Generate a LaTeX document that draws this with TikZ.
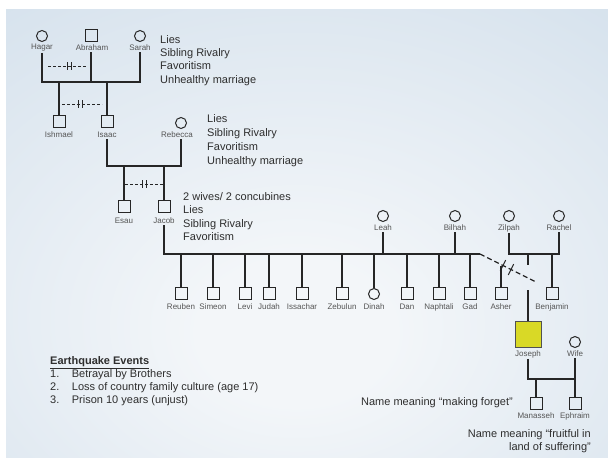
\documentclass[tikz,border=0pt]{standalone}
\usepackage{fontspec}
\setmainfont{Liberation Sans}
\definecolor{bgin}{HTML}{F3F6F9}
\definecolor{bgout}{HTML}{BCD0E2}
\definecolor{linec}{HTML}{262626}
\definecolor{textc}{HTML}{2E2E2E}
\definecolor{namec}{HTML}{555555}
\definecolor{josephc}{HTML}{D9D926}
\pgfdeclareradialshading{slidebg}{\pgfpoint{-1bp}{-12bp}}{color(0bp)=(bgin); color(8bp)=(bgin); color(72bp)=(bgout); color(100bp)=(bgout)}
\tikzset{
  male/.style={draw=linec, line width=1pt, minimum size=12pt, inner sep=0pt},
  female/.style={circle, draw=linec, line width=1pt, minimum size=11pt, inner sep=0pt},
  pname/.style={font=\fontsize{8}{9}\selectfont, text=namec, inner sep=1pt},
  note/.style={font=\fontsize{11}{13.3}\selectfont, text=textc, align=left, inner sep=0pt, anchor=north west},
  kin/.style={draw=linec, line width=1.2pt},
  cutoff/.style={draw=linec, line width=1pt, dash pattern=on 3pt off 2pt},
}
\begin{document}
\begin{tikzpicture}[x=1pt,y=-1pt]
\useasboundingbox (0,0) rectangle (608,458);
\fill[white] (0,0) rectangle (608,458);
\shade[shading=slidebg] (6,9) rectangle (608,458);
% Abraham, Hagar, Sarah
\node[female] (hagar) at (42,36) {};
\node[pname] (hagarn) at (42,48) {Hagar};
\node[male] (abraham) at (91,35) {};
\node[pname] (abrahamn) at (92,48) {Abraham};
\node[female] (sarah) at (140,36) {};
\node[pname] (sarahn) at (140,48) {Sarah};
\coordinate (bar1) at (0,82);
\draw[kin] (hagarn.south) -- (hagarn.south |- bar1) -- (sarahn.south |- bar1) -- (sarahn.south);
\draw[kin] (abraham |- abrahamn.south) -- (abraham |- bar1);
\draw[cutoff] (48,66) -- (87,66);
\draw[kin, line width=1pt] (67,62) -- (67,70) (71,62) -- (71,70);
\node[note] (traits1) at (160,35) {Lies\\Sibling Rivalry\\Favoritism\\Unhealthy marriage};
% Ishmael, Isaac, Rebecca
\node[male] (ishmael) at (59,121) {};
\node[pname] (ishmaeln) at (59,135) {Ishmael};
\node[male] (isaac) at (107,121) {};
\node[pname] (isaacn) at (107,135) {Isaac};
\draw[kin] (ishmael.north |- bar1) -- (ishmael.north);
\draw[kin] (isaac.north |- bar1) -- (isaac.north);
\draw[cutoff] (62,104) -- (102,104);
\draw[kin, line width=1pt] (78,100) -- (78,108) (82,100) -- (82,108);
\node[female] (rebecca) at (181,123) {};
\node[pname] (rebeccan) at (177,135) {Rebecca};
\node[note, font=\fontsize{11}{14}\selectfont] (traits2) at (207,114) {Lies\\Sibling Rivalry\\Favoritism\\Unhealthy marriage};
\coordinate (bar2) at (0,166);
\draw[kin] (isaacn.south) -- (isaacn.south |- bar2) -- (rebecca |- bar2) -- (rebecca |- rebeccan.south);
% Esau, Jacob
\node[male] (esau) at (124,206) {};
\node[pname] (esaun) at (124,221) {Esau};
\node[male] (jacob) at (164,206) {};
\node[pname] (jacobn) at (164,221) {Jacob};
\draw[kin] (esau.north |- bar2) -- (esau.north);
\draw[kin] (jacob.north |- bar2) -- (jacob.north);
\draw[cutoff] (125,184) -- (163,184);
\draw[kin, line width=1pt] (142,180) -- (142,188) (146,180) -- (146,188);
\node[note] (traits3) at (183,192.5) {2 wives/ 2 concubines\\Lies\\Sibling Rivalry\\Favoritism};
% wives of Jacob
\node[female] (leah) at (383,216) {};
\node[pname] (leahn) at (383,228) {Leah};
\node[female] (bilhah) at (455,216) {};
\node[pname] (bilhahn) at (455,228) {Bilhah};
\node[female] (zilpah) at (509,216) {};
\node[pname] (zilpahn) at (509,228) {Zilpah};
\node[female] (rachel) at (559,216) {};
\node[pname] (racheln) at (559,228) {Rachel};
\coordinate (bar3) at (0,254);
\coordinate (cutstart) at (480,254);
\coordinate (cutend) at (536,282);
\draw[kin] (jacobn.south) -- (jacobn.south |- bar3) -- (cutstart);
\draw[kin] (leahn.south) -- (leahn.south |- bar3);
\draw[kin] (bilhahn.south) -- (bilhahn.south |- bar3);
\draw[kin] (zilpahn.south) -- (zilpahn.south |- bar3) -- (racheln.south |- bar3) -- (racheln.south);
\draw[kin, dash pattern=on 5pt off 3pt] (cutstart) -- (cutend);
\draw[kin, line width=1pt] (505.7,260.1) -- (500.3,270.9) (513.7,264.1) -- (508.3,274.9);
% twelve sons and Dinah
\foreach \n/\x in {Reuben/181, Simeon/213, Levi/245, Judah/269, Issachar/302, Zebulun/342, Dan/407, Naphtali/439, Gad/470} {
  \node[male] (\n) at (\x,293.5) {};
  \node[pname] (\n n) at (\x,307) {\n};
  \draw[kin] (\n.north |- bar3) -- (\n.north);
}
\node[female] (dinah) at (374,294) {};
\node[pname] (dinahn) at (374,307) {Dinah};
\draw[kin] (dinah.north |- bar3) -- (dinah.north);
\node[male] (asher) at (501,293.5) {};
\node[pname] (ashern) at (501,307) {Asher};
\coordinate (asherjoin) at (501,266);
\draw[kin] (asherjoin) -- (asher.north);
\node[male] (benjamin) at (552,293.5) {};
\node[pname] (benjaminn) at (552,307) {Benjamin};
\draw[kin] (benjamin.north |- bar3) -- (benjamin.north);
% Joseph
\node[male, fill=josephc, draw=linec!80, minimum size=26pt] (joseph) at (528,334) {};
\node[pname] (josephn) at (528,354) {Joseph};
\coordinate (josephstub) at (528,265);
\coordinate (josephtop) at (528,290);
\draw[kin] (josephstub |- bar3) -- (josephstub);
\draw[kin] (josephtop) -- (joseph.north);
\node[female] (wife) at (575,342) {};
\node[pname] (wifen) at (575,354) {Wife};
\coordinate (bar5) at (0,379);
\draw[kin] (josephn.south) -- (josephn.south |- bar5) -- (wife |- bar5) -- (wife |- wifen.south);
\node[male] (manasseh) at (536,403) {};
\node[pname] (manassehn) at (536,416) {Manasseh};
\node[male] (ephraim) at (575,403) {};
\node[pname] (ephraimn) at (575,416) {Ephraim};
\draw[kin] (manasseh.north |- bar5) -- (manasseh.north);
\draw[kin] (ephraim.north |- bar5) -- (ephraim.north);
\node[note, anchor=east] (forget) at (513,403) {Name meaning “making forget”};
\node[note, anchor=north east, align=right] (fruitful) at (591,429) {Name meaning “fruitful in\\land of suffering”};
% earthquake events
\node[note, font=\fontsize{11}{13}\selectfont] (quake) at (50,356) {\underline{\textbf{Earthquake Events}}\\
  \makebox[21.7pt][l]{1.}Betrayal by Brothers\\
  \makebox[21.7pt][l]{2.}Loss of country family culture (age 17)\\
  \makebox[21.7pt][l]{3.}Prison 10 years (unjust)};
\end{tikzpicture}
\end{document}
